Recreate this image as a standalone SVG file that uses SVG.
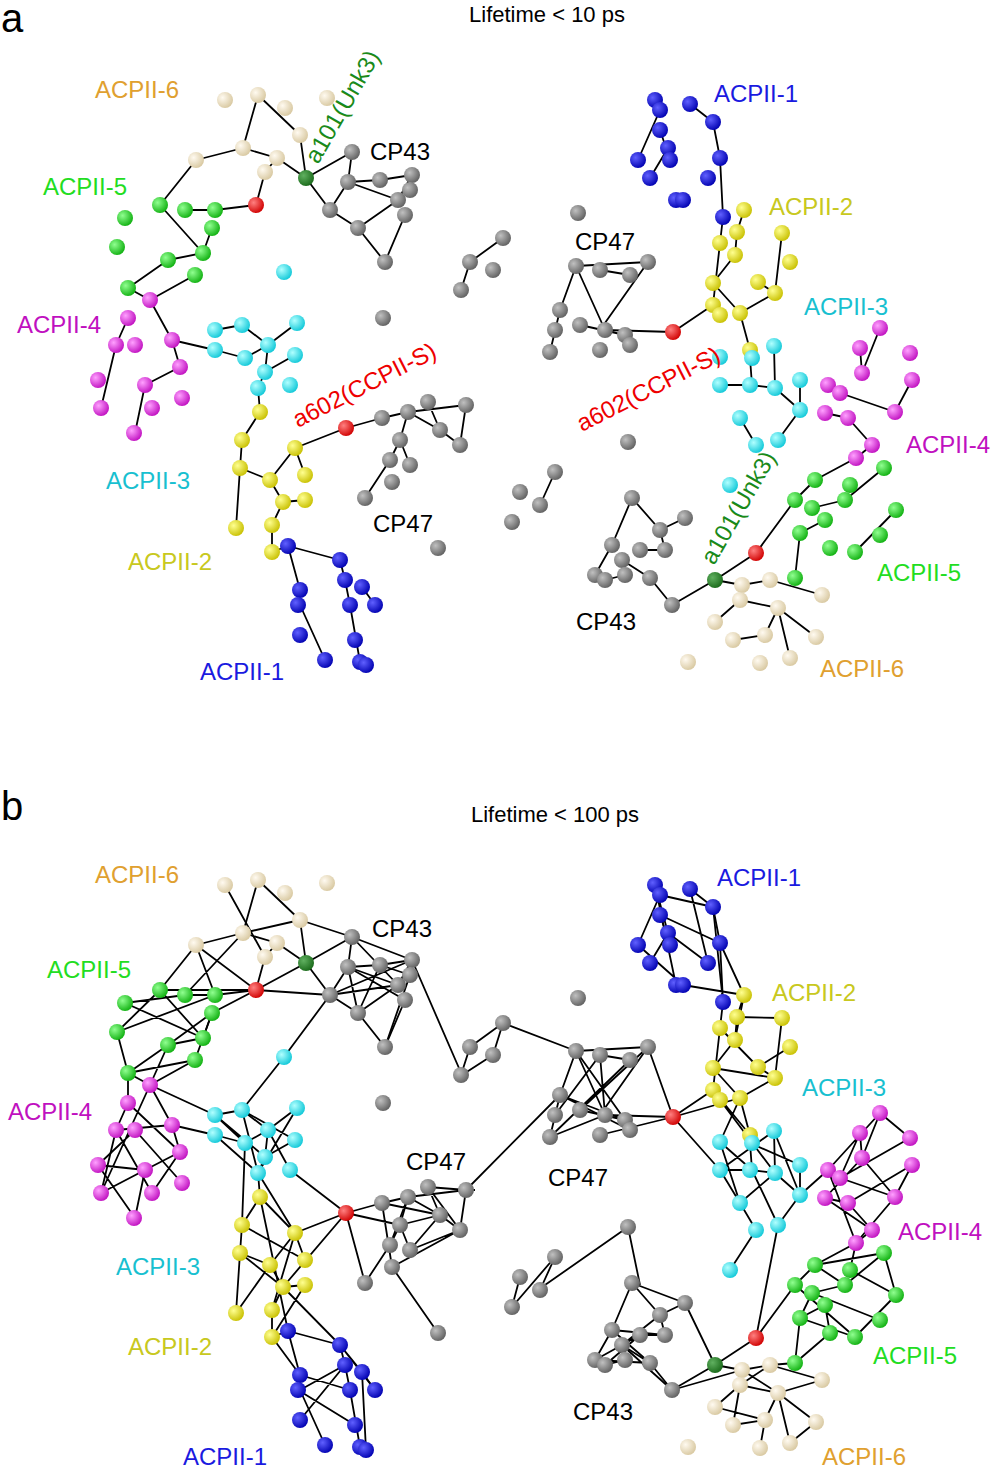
<svg xmlns="http://www.w3.org/2000/svg" xmlns:xlink="http://www.w3.org/1999/xlink" width="1000" height="1469" viewBox="0 0 1000 1469">
<style>
text{font-family:"Liberation Sans",Arial,sans-serif;font-size:24px}
.t{font-size:22px;fill:#000}
.p{font-size:40px;fill:#000}
.e{stroke:#000;stroke-width:1.8;fill:none}
.be circle{fill:url(#gBe)} .gr circle{fill:url(#gGr)} .dg circle{fill:url(#gDg)} .rd circle{fill:url(#gRd)}
.cy circle{fill:url(#gCy)} .mg circle{fill:url(#gMg)} .ye circle{fill:url(#gYe)} .bl circle{fill:url(#gBl)} .gy circle{fill:url(#gGy)}
</style>
<defs>
<radialGradient id="gBe" cx="0.35" cy="0.35" r="0.7"><stop offset="0" stop-color="#fffaf0"/><stop offset="1" stop-color="#d8c8a0"/></radialGradient>
<radialGradient id="gGr" cx="0.35" cy="0.35" r="0.7"><stop offset="0" stop-color="#90ff90"/><stop offset="1" stop-color="#10b010"/></radialGradient>
<radialGradient id="gDg" cx="0.35" cy="0.35" r="0.7"><stop offset="0" stop-color="#60b060"/><stop offset="1" stop-color="#1a6a1a"/></radialGradient>
<radialGradient id="gRd" cx="0.35" cy="0.35" r="0.7"><stop offset="0" stop-color="#ff8080"/><stop offset="1" stop-color="#d00000"/></radialGradient>
<radialGradient id="gCy" cx="0.35" cy="0.35" r="0.7"><stop offset="0" stop-color="#b0ffff"/><stop offset="1" stop-color="#10c8d8"/></radialGradient>
<radialGradient id="gMg" cx="0.35" cy="0.35" r="0.7"><stop offset="0" stop-color="#ffa0ff"/><stop offset="1" stop-color="#c010c0"/></radialGradient>
<radialGradient id="gYe" cx="0.35" cy="0.35" r="0.7"><stop offset="0" stop-color="#ffff90"/><stop offset="1" stop-color="#c8c000"/></radialGradient>
<radialGradient id="gBl" cx="0.35" cy="0.35" r="0.7"><stop offset="0" stop-color="#6060ff"/><stop offset="1" stop-color="#0000b0"/></radialGradient>
<radialGradient id="gGy" cx="0.35" cy="0.35" r="0.7"><stop offset="0" stop-color="#c0c0c0"/><stop offset="1" stop-color="#606060"/></radialGradient>
</defs>
<rect width="1000" height="1469" fill="#fff"/>
<g id="connectors">
<path id="edgesA" class="e" d="M258,95L243,148M258,95L300,135M243,148L196,160M243,148L277,158M277,158L265,172M265,172L256,205M300,135L306,178M196,160L160,205M277,158L306,178
M160,205L203,253M185,210L215,210M215,210L256,205M168,260L128,288M168,260L203,253M203,253L212,228M195,275L150,300M128,288L150,300
M306,178L352,152M306,178L330,210M352,152L348,182M348,182L380,180M380,180L412,175M348,182L330,210M330,210L358,228M358,228L385,262M385,262L405,215M398,200L412,175M358,228L398,200M348,182L398,200
M150,300L172,340M172,340L180,367M128,318L116,345M116,345L101,408M145,385L135,433M180,367L145,385M172,340L215,350
M242,325L215,330M242,325L268,345M268,345L297,323M268,345L265,372M295,355L265,372M265,372L258,388M215,350L245,358M245,358L268,345M258,388L260,412
M260,412L242,440M242,440L240,468M240,468L270,480M270,480L295,448M295,448L305,475M295,448L346,428M283,502L305,500M270,480L283,502M240,468L236,528M272,525L272,552M283,502L272,525
M272,552L288,546M288,546L340,560M288,546L300,590M300,590L300,605M300,605L325,660M340,560L345,580M345,580L350,605M350,605L360,662M362,587L375,605
M346,428L382,418M382,418L408,412M408,412L466,405M408,412L440,430M440,430L460,445M400,440L390,460M390,460L365,498M400,440L410,465M428,402L440,430M466,405L460,445M408,412L400,440
M503,238L470,262M470,262L461,290M555,472L540,505
M576,266L648,262M576,266L560,310M560,310L550,352M580,325L625,335M600,270L630,275M605,330L673,332M625,335L630,345M576,266L605,330M648,262L600,330
M673,332L713,305M713,305L720,243M720,243L723,217M723,217L720,158M720,158L713,122M713,122L690,104M660,130L670,160M668,148L650,178M638,160L660,110M744,210L737,232M737,232L735,255M735,255L713,283M713,283L740,313M740,313L775,293M775,293L782,233M758,282L775,293M740,313L750,350
M774,346L775,388M720,385L750,385M750,385L775,388M775,388L800,410M800,410L800,380M750,358L752,385M740,418L756,445M778,440L800,410
M862,373L880,328M840,393L895,412M895,412L912,380M825,413L848,418M848,418L872,445M872,445L856,458M860,348L862,373
M856,458L815,480M815,480L795,500M795,500L756,553M812,508L845,500M845,500L884,468M825,520L800,533M855,552L896,510M800,533L795,578
M715,580L756,553M715,580L672,605M715,580L742,585
M632,498L612,545M612,545L595,575M632,498L660,530M660,530L685,518M640,550L665,550M622,560L650,578M650,578L672,605M660,530L665,550M605,580L625,575
M742,585L770,580M770,580L822,595M742,585L740,600M740,600L715,622M778,608L816,637M778,608L765,635M765,635L733,640M778,608L790,658M740,600L778,608"/>
<use href="#edgesA" transform="translate(0,785)"/>
<path class="e" transform="translate(0,785)" d="M196,160L256,205M225,100L265,172M160,205L256,205M125,218L203,253M117,247L215,210M168,260L212,228M128,288L195,275M185,210L243,148M300,135L352,152M256,205L330,210M256,205L306,178M352,152L412,175M330,210L412,175M348,182L405,215M380,180L358,228M398,200L330,210
M196,160L215,210M243,148L300,135M160,205L117,247M125,218L185,210M212,228L256,205M117,247L128,288M195,275L212,228M168,260L150,300M352,152L398,200M380,180L410,190M348,182L358,228M410,190L385,262
M150,300L101,408M128,318L180,367M116,345L172,340M98,380L145,385M135,345L182,398M152,408L180,367M98,380L135,433M150,300L215,330M128,288L128,318M116,345L152,408M101,408L145,385M135,345L98,380
M284,272L242,325M284,272L330,210M242,325L295,355M215,330L265,372M297,323L258,388M268,345L290,385M215,350L258,388M245,358L242,440M290,385L346,428M258,388L295,448M242,325L258,388M215,330L245,358
M260,412L295,448M242,440L305,475M240,468L283,502M270,480L236,528M295,448L272,525M305,500L272,552M260,412L288,546M283,502L340,560M272,552L300,590M340,560L375,605M300,590L350,605M345,580L300,635M362,587L366,665M298,605L355,640M283,502L346,428M340,560L362,587M300,605L345,580
M346,428L400,440M346,428L365,498M382,418L440,430M408,412L390,460M428,402L466,405M440,430L410,465M460,445L392,482M400,440L440,430M466,405L475,405M466,405L560,310M392,482L438,548M382,418L392,482M428,402L460,445M410,465L460,445
M412,175L462,290M462,290L493,270M493,270L503,238M503,238L576,266M555,472L512,522M512,522L520,492M545,500L628,442M628,442L640,500
M576,266L625,335M560,310L630,345M550,352L605,330M580,325L648,262M555,330L600,270M600,350L673,332M648,262L673,332M673,332L720,385M673,332L740,313M600,270L605,330M560,310L625,335M550,352L630,275
M660,110L713,122M655,100L676,200M660,130L720,158M638,160L683,200M668,148L708,178M683,200L744,210M720,158L744,210M713,122L723,217M655,100L668,148M690,104L708,178
M744,210L735,255M737,232L782,233M720,243L758,282M713,283L775,293M713,305L750,350M740,313L720,357M720,315L775,388M790,262L758,282
M774,346L720,385M720,357L752,385M750,358L800,380M720,385L740,418M752,385L778,440M775,388L740,418M800,410L828,385M756,445L730,485M778,440L756,553M720,357L740,418M774,346L800,410
M828,385L880,328M840,393L910,353M862,373L895,412M825,413L872,445M848,418L912,380M856,458L895,412M860,348L840,393M828,385L856,458M880,328L910,353M825,413L862,373
M884,468L815,480M850,485L896,510M815,480L845,500M795,500L855,552M812,508L880,535M825,520L830,548M800,533L855,552M856,458L850,485M795,578L830,548M884,468L896,510M812,508L800,533
M632,498L685,518M612,545L665,550M622,560L672,605M595,575L650,578M640,550L605,580M660,530L622,560M685,518L715,580M672,605L742,585M612,545L650,578M595,575L640,550
M742,585L778,608M770,580L740,600M822,595L778,608M715,622L765,635M740,600L733,640M816,637L790,658M765,635L760,663M770,580L795,578"/>
</g>
<g id="nodesA">
<g id="acp6L" class="be"><circle cx="225" cy="100" r="8"/><circle cx="258" cy="95" r="8"/><circle cx="285" cy="108" r="8"/><circle cx="327" cy="98" r="8"/><circle cx="300" cy="135" r="8"/><circle cx="243" cy="148" r="8"/><circle cx="196" cy="160" r="8"/><circle cx="265" cy="172" r="8"/><circle cx="277" cy="158" r="8"/></g>
<g id="acp5L" class="gr"><circle cx="160" cy="205" r="8"/><circle cx="185" cy="210" r="8"/><circle cx="125" cy="218" r="8"/><circle cx="117" cy="247" r="8"/><circle cx="215" cy="210" r="8"/><circle cx="168" cy="260" r="8"/><circle cx="128" cy="288" r="8"/><circle cx="203" cy="253" r="8"/><circle cx="195" cy="275" r="8"/><circle cx="212" cy="228" r="8"/></g>
<g id="unkL" class="dg"><circle cx="306" cy="178" r="8"/></g>
<g id="redL" class="rd"><circle cx="256" cy="205" r="8"/><circle cx="346" cy="428" r="8"/></g>
<g id="cp43L" class="gy"><circle cx="352" cy="152" r="8"/><circle cx="348" cy="182" r="8"/><circle cx="380" cy="180" r="8"/><circle cx="412" cy="175" r="8"/><circle cx="398" cy="200" r="8"/><circle cx="330" cy="210" r="8"/><circle cx="358" cy="228" r="8"/><circle cx="385" cy="262" r="8"/><circle cx="410" cy="190" r="8"/><circle cx="405" cy="215" r="8"/></g>
<g id="acp3L" class="cy"><circle cx="284" cy="272" r="8"/><circle cx="242" cy="325" r="8"/><circle cx="297" cy="323" r="8"/><circle cx="215" cy="330" r="8"/><circle cx="268" cy="345" r="8"/><circle cx="295" cy="355" r="8"/><circle cx="215" cy="350" r="8"/><circle cx="245" cy="358" r="8"/><circle cx="265" cy="372" r="8"/><circle cx="290" cy="385" r="8"/><circle cx="258" cy="388" r="8"/></g>
<g id="acp4L" class="mg"><circle cx="150" cy="300" r="8"/><circle cx="128" cy="318" r="8"/><circle cx="116" cy="345" r="8"/><circle cx="135" cy="345" r="8"/><circle cx="172" cy="340" r="8"/><circle cx="98" cy="380" r="8"/><circle cx="101" cy="408" r="8"/><circle cx="145" cy="385" r="8"/><circle cx="180" cy="367" r="8"/><circle cx="152" cy="408" r="8"/><circle cx="134" cy="433" r="8"/><circle cx="182" cy="398" r="8"/></g>
<g id="acp2L" class="ye"><circle cx="260" cy="412" r="8"/><circle cx="242" cy="440" r="8"/><circle cx="295" cy="448" r="8"/><circle cx="240" cy="468" r="8"/><circle cx="270" cy="480" r="8"/><circle cx="305" cy="475" r="8"/><circle cx="283" cy="502" r="8"/><circle cx="305" cy="500" r="8"/><circle cx="236" cy="528" r="8"/><circle cx="272" cy="525" r="8"/><circle cx="272" cy="552" r="8"/></g>
<g id="acp1L" class="bl"><circle cx="288" cy="546" r="8"/><circle cx="340" cy="560" r="8"/><circle cx="300" cy="590" r="8"/><circle cx="345" cy="580" r="8"/><circle cx="362" cy="587" r="8"/><circle cx="350" cy="605" r="8"/><circle cx="298" cy="605" r="8"/><circle cx="375" cy="605" r="8"/><circle cx="300" cy="635" r="8"/><circle cx="355" cy="640" r="8"/><circle cx="325" cy="660" r="8"/><circle cx="360" cy="662" r="8"/><circle cx="366" cy="665" r="8"/></g>
<g id="cp47L" class="gy"><circle cx="382" cy="418" r="8"/><circle cx="408" cy="412" r="8"/><circle cx="428" cy="402" r="8"/><circle cx="466" cy="405" r="8"/><circle cx="440" cy="430" r="8"/><circle cx="460" cy="445" r="8"/><circle cx="400" cy="440" r="8"/><circle cx="390" cy="460" r="8"/><circle cx="410" cy="465" r="8"/><circle cx="365" cy="498" r="8"/><circle cx="392" cy="482" r="8"/></g>
<g id="grayFree" class="gy"><circle cx="383" cy="318" r="8"/><circle cx="578" cy="213" r="8"/><circle cx="503" cy="238" r="8"/><circle cx="470" cy="262" r="8"/><circle cx="493" cy="270" r="8"/><circle cx="461" cy="290" r="8"/><circle cx="555" cy="472" r="8"/><circle cx="520" cy="492" r="8"/><circle cx="540" cy="505" r="8"/><circle cx="512" cy="522" r="8"/><circle cx="438" cy="548" r="8"/><circle cx="628" cy="442" r="8"/></g>
<g id="cp47R" class="gy"><circle cx="576" cy="266" r="8"/><circle cx="648" cy="262" r="8"/><circle cx="600" cy="270" r="8"/><circle cx="630" cy="275" r="8"/><circle cx="560" cy="310" r="8"/><circle cx="555" cy="330" r="8"/><circle cx="580" cy="325" r="8"/><circle cx="605" cy="330" r="8"/><circle cx="625" cy="335" r="8"/><circle cx="630" cy="345" r="8"/><circle cx="550" cy="352" r="8"/><circle cx="600" cy="350" r="8"/></g>
<g id="redR" class="rd"><circle cx="673" cy="332" r="8"/><circle cx="756" cy="553" r="8"/></g>
<g id="acp1R" class="bl"><circle cx="655" cy="100" r="8"/><circle cx="690" cy="104" r="8"/><circle cx="660" cy="110" r="8"/><circle cx="713" cy="122" r="8"/><circle cx="660" cy="130" r="8"/><circle cx="638" cy="160" r="8"/><circle cx="668" cy="148" r="8"/><circle cx="720" cy="158" r="8"/><circle cx="670" cy="160" r="8"/><circle cx="650" cy="178" r="8"/><circle cx="676" cy="200" r="8"/><circle cx="683" cy="200" r="8"/><circle cx="708" cy="178" r="8"/><circle cx="723" cy="217" r="8"/></g>
<g id="acp2R" class="ye"><circle cx="744" cy="210" r="8"/><circle cx="782" cy="233" r="8"/><circle cx="737" cy="232" r="8"/><circle cx="720" cy="243" r="8"/><circle cx="735" cy="255" r="8"/><circle cx="790" cy="262" r="8"/><circle cx="713" cy="283" r="8"/><circle cx="758" cy="282" r="8"/><circle cx="775" cy="293" r="8"/><circle cx="713" cy="305" r="8"/><circle cx="740" cy="313" r="8"/><circle cx="720" cy="315" r="8"/><circle cx="750" cy="350" r="8"/></g>
<g id="acp3R" class="cy"><circle cx="774" cy="346" r="8"/><circle cx="720" cy="357" r="8"/><circle cx="752" cy="358" r="8"/><circle cx="800" cy="380" r="8"/><circle cx="720" cy="385" r="8"/><circle cx="750" cy="385" r="8"/><circle cx="775" cy="388" r="8"/><circle cx="800" cy="410" r="8"/><circle cx="740" cy="418" r="8"/><circle cx="756" cy="445" r="8"/><circle cx="730" cy="485" r="8"/><circle cx="778" cy="440" r="8"/></g>
<g id="acp4R" class="mg"><circle cx="880" cy="328" r="8"/><circle cx="860" cy="348" r="8"/><circle cx="910" cy="353" r="8"/><circle cx="862" cy="373" r="8"/><circle cx="912" cy="380" r="8"/><circle cx="828" cy="385" r="8"/><circle cx="840" cy="393" r="8"/><circle cx="895" cy="412" r="8"/><circle cx="825" cy="413" r="8"/><circle cx="848" cy="418" r="8"/><circle cx="872" cy="445" r="8"/><circle cx="856" cy="458" r="8"/></g>
<g id="acp5R" class="gr"><circle cx="884" cy="468" r="8"/><circle cx="850" cy="485" r="8"/><circle cx="815" cy="480" r="8"/><circle cx="795" cy="500" r="8"/><circle cx="845" cy="500" r="8"/><circle cx="812" cy="508" r="8"/><circle cx="896" cy="510" r="8"/><circle cx="825" cy="520" r="8"/><circle cx="880" cy="535" r="8"/><circle cx="800" cy="533" r="8"/><circle cx="830" cy="548" r="8"/><circle cx="855" cy="552" r="8"/><circle cx="795" cy="578" r="8"/></g>
<g id="unkR" class="dg"><circle cx="715" cy="580" r="8"/></g>
<g id="cp43R" class="gy"><circle cx="632" cy="498" r="8"/><circle cx="685" cy="518" r="8"/><circle cx="660" cy="530" r="8"/><circle cx="612" cy="545" r="8"/><circle cx="640" cy="550" r="8"/><circle cx="665" cy="550" r="8"/><circle cx="622" cy="560" r="8"/><circle cx="595" cy="575" r="8"/><circle cx="625" cy="575" r="8"/><circle cx="650" cy="578" r="8"/><circle cx="605" cy="580" r="8"/><circle cx="672" cy="605" r="8"/></g>
<g id="acp6R" class="be"><circle cx="742" cy="585" r="8"/><circle cx="770" cy="580" r="8"/><circle cx="822" cy="595" r="8"/><circle cx="740" cy="600" r="8"/><circle cx="778" cy="608" r="8"/><circle cx="715" cy="622" r="8"/><circle cx="816" cy="637" r="8"/><circle cx="765" cy="635" r="8"/><circle cx="733" cy="640" r="8"/><circle cx="790" cy="658" r="8"/><circle cx="760" cy="663" r="8"/><circle cx="688" cy="662" r="8"/></g>
</g>
<use id="nodesB" href="#nodesA" transform="translate(0,785)"/>
<g id="labels">
<text class="p" x="1" y="32">a</text>
<text class="t" x="547" y="22" text-anchor="middle">Lifetime &lt; 10 ps</text>
<text x="95" y="98" fill="#e0a030">ACPII-6</text>
<text x="0" y="0" fill="#1a8a1a" transform="translate(318,165) rotate(-60)">a101(Unk3)</text>
<text x="370" y="160">CP43</text>
<text x="43" y="195" fill="#22dd22">ACPII-5</text>
<text x="17" y="333" fill="#c010c0">ACPII-4</text>
<text x="0" y="0" fill="#ee0000" transform="translate(298,428) rotate(-27)">a602(CCPII-S)</text>
<text x="106" y="489" fill="#18c0d0">ACPII-3</text>
<text x="128" y="570" fill="#c8c820">ACPII-2</text>
<text x="200" y="680" fill="#1a1ae0">ACPII-1</text>
<text x="373" y="532">CP47</text>
<text x="714" y="102" fill="#1a1ae0">ACPII-1</text>
<text x="769" y="215" fill="#c8c820">ACPII-2</text>
<text x="575" y="250">CP47</text>
<text x="804" y="315" fill="#18c0d0">ACPII-3</text>
<text x="0" y="0" fill="#ee0000" transform="translate(582,432) rotate(-27)">a602(CCPII-S)</text>
<text x="906" y="453" fill="#c010c0">ACPII-4</text>
<text x="0" y="0" fill="#1a8a1a" transform="translate(714,566) rotate(-60)">a101(Unk3)</text>
<text x="877" y="581" fill="#22dd22">ACPII-5</text>
<text x="576" y="630">CP43</text>
<text x="820" y="677" fill="#e0a030">ACPII-6</text>
<text class="p" x="1" y="820">b</text>
<text class="t" x="555" y="822" text-anchor="middle">Lifetime &lt; 100 ps</text>
<text x="95" y="883" fill="#e0a030">ACPII-6</text>
<text x="372" y="937">CP43</text>
<text x="47" y="978" fill="#22dd22">ACPII-5</text>
<text x="8" y="1120" fill="#c010c0">ACPII-4</text>
<text x="116" y="1275" fill="#18c0d0">ACPII-3</text>
<text x="128" y="1355" fill="#c8c820">ACPII-2</text>
<text x="183" y="1465" fill="#1a1ae0">ACPII-1</text>
<text x="406" y="1170">CP47</text>
<text x="717" y="886" fill="#1a1ae0">ACPII-1</text>
<text x="772" y="1001" fill="#c8c820">ACPII-2</text>
<text x="802" y="1096" fill="#18c0d0">ACPII-3</text>
<text x="548" y="1186">CP47</text>
<text x="898" y="1240" fill="#c010c0">ACPII-4</text>
<text x="873" y="1364" fill="#22dd22">ACPII-5</text>
<text x="573" y="1420">CP43</text>
<text x="822" y="1465" fill="#e0a030">ACPII-6</text>
</g>
</svg>
